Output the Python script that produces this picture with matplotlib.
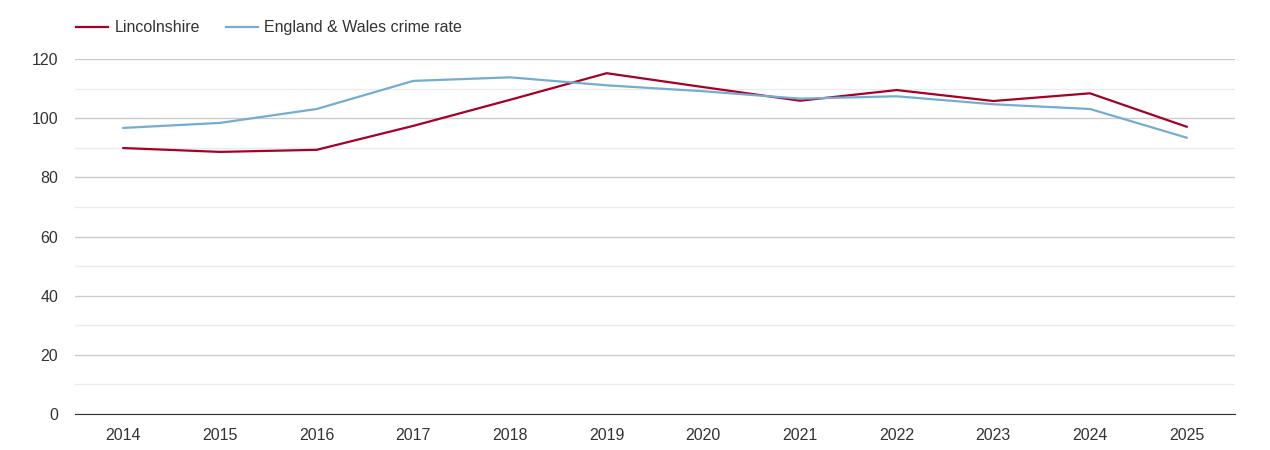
import matplotlib.pyplot as plt

years = [2014, 2015, 2016, 2017, 2018, 2019, 2020, 2021, 2022, 2023, 2024, 2025]
lincolnshire = [89.9, 88.6, 89.3, 97.4, 106.2, 115.2, 110.5, 105.9, 109.5, 105.8, 108.4, 97.1]
england_wales = [96.7, 98.4, 103.1, 112.6, 113.8, 111.1, 109.1, 106.6, 107.4, 104.7, 103.1, 93.4]

plt.rcParams['font.family'] = ['Liberation Sans', 'DejaVu Sans']

fig = plt.figure(figsize=(12.7, 4.5), dpi=100)
ax = fig.add_axes([75 / 1270, 1 - 414 / 450, 1160 / 1270, 355 / 450])

ax.plot(years, lincolnshire, color='#a50026', linewidth=1.6, label='Lincolnshire')
ax.plot(years, england_wales, color='#74add1', linewidth=1.6, label='England & Wales crime rate')

ax.set_xlim(2013.5, 2025.5)
ax.set_ylim(0, 120)
ax.set_xticks(years)
ax.set_yticks(range(0, 121, 20))
ax.set_yticks(range(10, 120, 20), minor=True)

ax.grid(axis='y', which='major', color='#cccccc', linewidth=1)
ax.grid(axis='y', which='minor', color='#ebebeb', linewidth=1)
ax.set_axisbelow(True)

for side in ['top', 'right', 'left']:
    ax.spines[side].set_visible(False)
ax.spines['bottom'].set_color('#333333')

ax.tick_params(axis='both', which='both', length=0, labelsize=11.5, colors='#333333')
ax.tick_params(axis='y', pad=12)
ax.tick_params(axis='x', pad=10)

fig.legend(loc='upper left', bbox_to_anchor=(62 / 1270, 1 - 6 / 450), ncol=2,
           frameon=False, fontsize=11.5, handlelength=2.0, columnspacing=1.6,
           handletextpad=0.4, labelcolor='#333333')

fig.savefig('out.png', dpi=100)
